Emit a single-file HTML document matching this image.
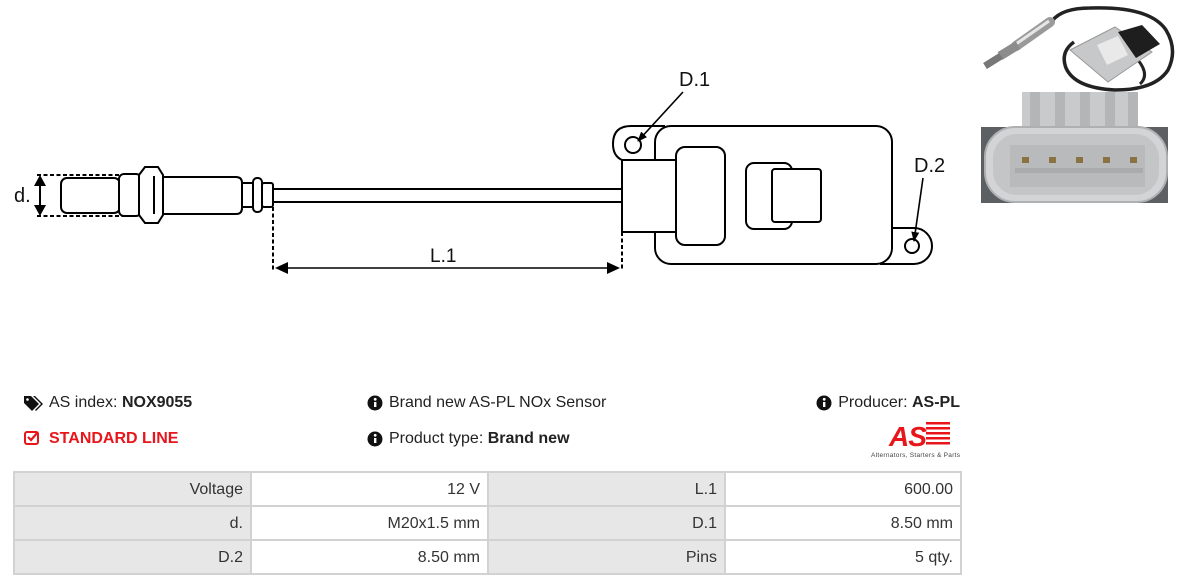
<!DOCTYPE html>
<html><head><meta charset="utf-8">
<style>
html,body{margin:0;padding:0;background:#fff;}
body{width:1185px;height:586px;position:relative;overflow:hidden;font-family:"Liberation Sans",Arial,sans-serif;}
.t{position:absolute;font-size:16px;color:#222;white-space:nowrap;line-height:20px;}
.b{font-weight:bold;}
.cell{position:absolute;height:32px;line-height:33px;font-size:16px;color:#333;text-align:right;box-sizing:border-box;padding-right:7px;}
.g{background:#e7e7e7;}
.w{background:#fff;}
</style></head><body>

<svg width="1185" height="586" style="position:absolute;left:0;top:0" xmlns="http://www.w3.org/2000/svg">
<defs>
<marker id="ah" markerWidth="10" markerHeight="10" refX="9" refY="5" orient="auto" markerUnits="userSpaceOnUse">
<path d="M0,1 L10,5 L0,9 Z" fill="#000"/></marker>
</defs>
<g fill="none" stroke="#000" stroke-width="2">
<!-- dashed d. guides -->
<line x1="37" y1="175" x2="122" y2="175" stroke-dasharray="4,2.5"/>
<line x1="37" y1="216" x2="125" y2="216" stroke-dasharray="4,2.5"/>
<line x1="40" y1="178" x2="40" y2="213"/>
<!-- sensor -->
<rect x="61" y="178" width="59" height="35" rx="6" fill="#fff"/>
<rect x="119" y="174" width="22" height="42" rx="5" fill="#fff"/>
<path d="M163,177 H236 Q242,177 242,183 V208 Q242,214 236,214 H163 Z" fill="#fff"/>
<polygon points="139,175 145,167 158,167 163,175 163,215 158,223 145,223 139,215" fill="#fff"/>
<line x1="154" y1="176" x2="154" y2="214"/>
<rect x="242" y="183" width="11" height="24" fill="#fff"/>
<rect x="253" y="178" width="9" height="34" rx="4" fill="#fff"/>
<rect x="262" y="183" width="11" height="24" rx="2" fill="#fff"/>
<!-- cable -->
<line x1="273" y1="189" x2="622" y2="189"/>
<line x1="273" y1="202" x2="622" y2="202"/>
<!-- L.1 dimension -->
<line x1="273" y1="207" x2="273" y2="271" stroke-dasharray="4,2.5"/>
<line x1="622" y1="232" x2="622" y2="271" stroke-dasharray="4,2.5"/>
<line x1="285" y1="268" x2="611" y2="268" stroke-width="1.6"/>
<!-- ears -->
<path d="M665,126 H631 Q613,126 613,144 Q613,156 622,160" fill="#fff"/>
<path d="M880,228 H914 A18,18 0 0 1 914,264 H880" fill="#fff"/>
<!-- main body -->
<rect x="655" y="126" width="237" height="138" rx="16" fill="#fff"/>
<rect x="622" y="160" width="54" height="72" fill="#fff"/>
<rect x="676" y="147" width="49" height="98" rx="9" fill="#fff"/>
<rect x="746" y="163" width="46" height="66" rx="8" fill="#fff"/>
<rect x="772" y="169" width="49" height="53" rx="3" fill="#fff"/>
<circle cx="633" cy="145" r="8" fill="#fff"/>
<circle cx="912" cy="246" r="7" fill="#fff"/>
<!-- leaders -->
<line x1="683" y1="92" x2="638" y2="141" stroke-width="1.6" marker-end="url(#ah)"/>
<line x1="923" y1="178" x2="914" y2="241" stroke-width="1.6" marker-end="url(#ah)"/>
</g>
<!-- arrowheads -->
<path d="M40,175 L34,186 L46,186 Z M40,216 L34,205 L46,205 Z" fill="#000"/>
<path d="M275,268 L288,262 L288,274 Z M620,268 L607,262 L607,274 Z" fill="#000"/>
<g font-family="Liberation Sans, sans-serif" font-size="20" fill="#111">
<text x="14" y="202">d.</text>
<text x="430" y="262" font-size="19">L.1</text>
<text x="679" y="86">D.1</text>
<text x="914" y="172">D.2</text>
</g>

<!-- photo top: sensor with cable -->
<g>
<path d="M1052,21 Q1062,8 1090,8 Q1150,6 1166,30 Q1178,50 1168,70 Q1155,90 1115,90 Q1075,88 1066,68 Q1060,52 1074,42" fill="none" stroke="#222" stroke-width="3.5"/>
<path d="M1138,60 Q1150,75 1140,84" fill="none" stroke="#222" stroke-width="3"/>
<path d="M1016,46 L1050,22" stroke="#9a9a9a" stroke-width="10" stroke-linecap="round"/>
<path d="M1016,44 L1049,21" stroke="#e6e6e6" stroke-width="3"/>
<path d="M1000,56 L1018,45" stroke="#8c8c8c" stroke-width="9"/>
<path d="M985,66 L1001,56" stroke="#777" stroke-width="7"/>
<polygon points="1070,50 1115,27 1152,52 1108,82" fill="#c6c8c9" stroke="#999" stroke-width="1"/>
<polygon points="1097,45 1118,36 1128,55 1107,65" fill="#e9e9e9"/>
<polygon points="1118,32 1142,25 1160,44 1136,58" fill="#1e1e1e"/>
</g>
<!-- photo bottom: connector -->
<g>
<rect x="981" y="127" width="187" height="76" fill="#5d6063"/>
<rect x="1022" y="92" width="116" height="40" fill="#c8cacb"/>
<rect x="1030" y="92" width="10" height="38" fill="#b3b5b6"/>
<rect x="1055" y="92" width="10" height="38" fill="#b3b5b6"/>
<rect x="1080" y="92" width="10" height="38" fill="#b3b5b6"/>
<rect x="1105" y="92" width="10" height="38" fill="#b3b5b6"/>
<rect x="1128" y="92" width="10" height="38" fill="#b3b5b6"/>
<rect x="985" y="127" width="182" height="75" rx="30" fill="#d2d4d5" stroke="#aeb0b1" stroke-width="2"/>
<rect x="993" y="134" width="166" height="61" rx="24" fill="#c3c5c6"/>
<rect x="1010" y="145" width="135" height="42" fill="#b8babb"/>
<rect x="1015" y="168" width="128" height="5" fill="#a9abac"/>
<g fill="#8a7340">
<rect x="1022" y="157" width="7" height="6"/>
<rect x="1049" y="157" width="7" height="6"/>
<rect x="1076" y="157" width="7" height="6"/>
<rect x="1103" y="157" width="7" height="6"/>
<rect x="1130" y="157" width="7" height="6"/>
</g>
</g>

<!-- icons -->
<g>
<path d="M24,396 h7 l8,8 l-7,7 l-8,-8 Z" fill="#111"/>
<path d="M33,396 h2 l8,8 l-7,7 l-1,-1 l6,-6 Z" fill="#111"/>
<circle cx="27.5" cy="399.5" r="1.3" fill="#fff"/>
<rect x="25" y="432" width="13" height="12" rx="2" fill="none" stroke="#e8151b" stroke-width="2"/>
<path d="M28,437 l3,3 l7,-8" fill="none" stroke="#e8151b" stroke-width="2.2"/>
<g>
<circle cx="375" cy="403" r="7.5" fill="#111"/><rect x="374" y="402" width="2.4" height="5" fill="#fff"/><circle cx="375.2" cy="399.3" r="1.4" fill="#fff"/>
<circle cx="375" cy="439" r="7.5" fill="#111"/><rect x="374" y="438" width="2.4" height="5" fill="#fff"/><circle cx="375.2" cy="435.3" r="1.4" fill="#fff"/>
<circle cx="824" cy="403" r="7.5" fill="#111"/><rect x="823" y="402" width="2.4" height="5" fill="#fff"/><circle cx="824.2" cy="399.3" r="1.4" fill="#fff"/>
</g>
<g fill="#e8151b">
<rect x="926" y="422" width="24" height="2.5"/>
<rect x="926" y="427" width="24" height="2.5"/>
<rect x="926" y="432" width="24" height="2.5"/>
<rect x="926" y="437" width="24" height="2.5"/>
<rect x="926" y="442" width="24" height="2.5"/>
<text x="889" y="446" font-family="Liberation Sans, sans-serif" font-weight="bold" font-style="italic" font-size="28" fill="#e8151b" letter-spacing="-1">AS</text>
</g>
<text x="871" y="457" font-family="Liberation Sans, sans-serif" font-size="6.5" fill="#444" textLength="89">Alternators, Starters &amp; Parts</text>
</g>
</svg>

<div class="t" style="left:49px;top:393px;">AS index: <span class="b">NOX9055</span></div>
<div class="t b" style="left:49px;top:429px;color:#e8151b;">STANDARD LINE</div>
<div class="t" style="left:389px;top:393px;">Brand new AS-PL NOx Sensor</div>
<div class="t" style="left:389px;top:429px;">Product type: <span class="b">Brand new</span></div>
<div class="t" style="right:225px;top:393px;">Producer: <span class="b">AS-PL</span></div>

<div style="position:absolute;left:13px;top:471px;width:949px;height:104px;background:#d2d2d2;"></div>
<div class="cell g" style="left:15px;top:473px;width:235px;">Voltage</div>
<div class="cell w" style="left:252px;top:473px;width:235px;">12 V</div>
<div class="cell g" style="left:489px;top:473px;width:235px;">L.1</div>
<div class="cell w" style="left:726px;top:473px;width:234px;">600.00</div>
<div class="cell g" style="left:15px;top:507px;width:235px;">d.</div>
<div class="cell w" style="left:252px;top:507px;width:235px;">M20x1.5 mm</div>
<div class="cell g" style="left:489px;top:507px;width:235px;">D.1</div>
<div class="cell w" style="left:726px;top:507px;width:234px;">8.50 mm</div>
<div class="cell g" style="left:15px;top:541px;width:235px;">D.2</div>
<div class="cell w" style="left:252px;top:541px;width:235px;">8.50 mm</div>
<div class="cell g" style="left:489px;top:541px;width:235px;">Pins</div>
<div class="cell w" style="left:726px;top:541px;width:234px;">5 qty.</div>
</body></html>
